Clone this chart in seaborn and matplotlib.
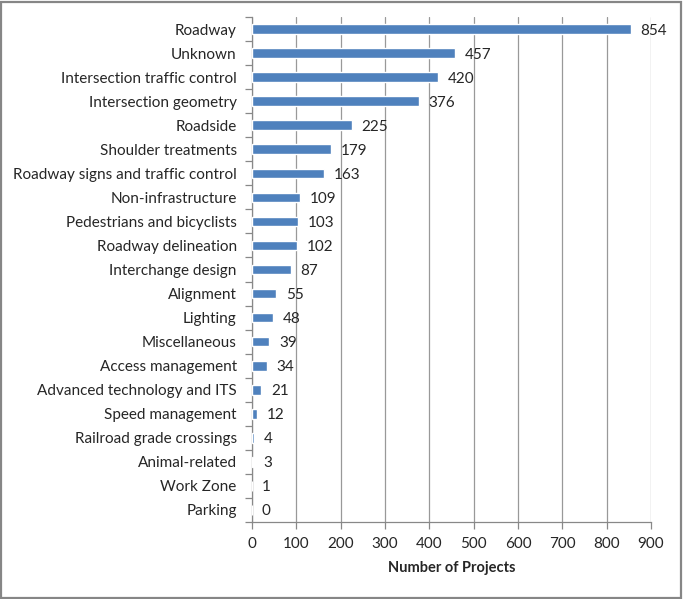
import numpy as np
import pandas as pd
import matplotlib
matplotlib.use("Agg")
import matplotlib.pyplot as plt
import seaborn as sns
from matplotlib.patches import Rectangle

# data
categories = ["Roadway", "Unknown", "Intersection traffic control", "Intersection geometry",
              "Roadside", "Shoulder treatments", "Roadway signs and traffic control",
              "Non-infrastructure", "Pedestrians and bicyclists", "Roadway delineation",
              "Interchange design", "Alignment", "Lighting", "Miscellaneous",
              "Access management", "Advanced technology and ITS", "Speed management",
              "Railroad grade crossings", "Animal-related", "Work Zone", "Parking"]
projects = [854, 457, 420, 376, 225, 179, 163, 109, 103, 102, 87, 55, 48, 39, 34, 21, 12, 4, 3, 1, 0]
x_ticks = [0, 100, 200, 300, 400, 500, 600, 700, 800, 900]

df = pd.DataFrame({"category": categories, "projects": projects})

sns.set_style("white")
plt.rcParams["font.family"] = ["Lato", "DejaVu Sans"]

fig = plt.figure(figsize=(6.83, 5.99), dpi=100)
ax = fig.add_axes([252 / 683, 1 - 522 / 599, (651 - 252) / 683, (522 - 17) / 599])

sns.barplot(data=df, x="projects", y="category", orient="h", color="#4F81BD",
            saturation=1, width=0.4, ax=ax, zorder=3)

lbls = ax.bar_label(ax.containers[0], labels=[str(v) for v in projects], padding=7, fontsize=11)
for t in lbls:
    t.set_verticalalignment("center_baseline")

ax.set_xlim(0, 900)
ax.set_xticks(x_ticks)
ax.set_ylim(len(categories) - 0.5, -0.5)
ax.grid(axis="x", color="#999999", linewidth=0.9, zorder=0)
ax.set_axisbelow(True)

# category boundary tick marks on the value axis side
ax.set_yticks(np.arange(len(categories) + 1) - 0.5, minor=True)
ax.tick_params(axis="y", which="minor", length=5, color="#888888", width=0.9, left=True)
ax.tick_params(axis="y", which="major", length=0, pad=11, labelsize=11)
ax.tick_params(axis="x", which="major", length=5, color="#888888", width=0.9,
               bottom=True, labelsize=11, pad=6)

for s in ["top", "right"]:
    ax.spines[s].set_visible(False)
for s in ["left", "bottom"]:
    ax.spines[s].set_color("#888888")
    ax.spines[s].set_linewidth(0.9)

ax.set_ylabel("")
ax.set_xlabel("Number of Projects", fontsize=10.5, fontweight="bold", labelpad=7)

# outer chart border
fig.patches.append(Rectangle((0.002, 0.002), 0.995, 0.995, transform=fig.transFigure,
                             fill=False, edgecolor="#868686", linewidth=1.6))

fig.savefig("out.png", dpi=100)
